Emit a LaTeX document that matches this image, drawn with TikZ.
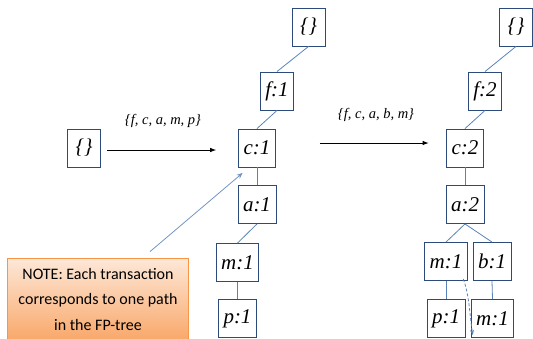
\documentclass[tikz,border=0pt]{standalone}
\usepackage{fontspec}
\newfontfamily\fa{Liberation Serif}
\newfontfamily\fd{Carlito}
\usetikzlibrary{arrows.meta}
\definecolor{boxline}{HTML}{2C4A7A}
\definecolor{edgeline}{HTML}{5A82B8}
\definecolor{noteline}{HTML}{F79646}
\definecolor{notetop}{HTML}{FDE8D8}
\definecolor{notebot}{HTML}{F9A86A}
\begin{document}
\begin{tikzpicture}[x=1pt,y=-1pt]
\tikzset{
  tbox/.style={draw=boxline, line width=0.9pt, fill=white, minimum height=38pt, minimum width=33pt, inner xsep=5pt, font=\fa\itshape\fontsize{21}{23}\selectfont},
  tedge/.style={draw=edgeline, line width=0.8pt},
  flow/.style={draw=black, line width=0.8pt, -{Latex[length=6pt,width=4.5pt]}},
  tlabel/.style={font=\fa\itshape\fontsize{14.5}{16}\selectfont},
  notebox/.style={draw=noteline, line width=0.8pt, top color=notetop, bottom color=notebot, minimum width=181pt, minimum height=82pt, align=center, font=\fd\fontsize{16}{25.5}\selectfont},
  pointer/.style={draw=edgeline!85!white, line width=0.8pt, -{Stealth[length=6pt,width=5pt]}},
  linkarrow/.style={draw=edgeline, line width=0.8pt, dashed, dash pattern=on 3pt off 2pt, -{Stealth[length=5pt,width=4pt]}}}
\useasboundingbox (0,0) rectangle (533,338);

% first empty tree
\node[tbox] (r0) at (84,148) {\{\}};

% tree 1
\node[tbox] (t1r) at (308.5,27) {\{\}};
\node[tbox] (t1f) at (277,91) {f:1};
\node[tbox] (t1c) at (257,148) {c:1};
\node[tbox] (t1a) at (257,204.5) {a:1};
\node[tbox] (t1m) at (237.5,262.5) {m:1};
\node[tbox] (t1p) at (237.5,318.5) {p:1};

\draw[tedge] (t1r.south) -- (t1f.north);
\draw[tedge] (t1f.south) -- (t1c.north);
\draw[tedge] (t1c.south) -- (t1a.north);
\draw[tedge] (t1a.south) -- (t1m.north);
\draw[tedge] (t1m.south) -- (t1p.north);

% tree 2
\node[tbox] (t2r) at (516,27) {\{\}};
\node[tbox] (t2f) at (485,91) {f:2};
\node[tbox] (t2c) at (465,148) {c:2};
\node[tbox] (t2a) at (465,204.5) {a:2};
\node[tbox] (t2m) at (446,261.5) {m:1};
\node[tbox] (t2b) at (492,261.5) {b:1};
\node[tbox] (t2p) at (446,318.5) {p:1};
\node[tbox] (t2mm) at (492.5,318.5) {m:1};

\draw[tedge] (t2r.south) -- (t2f.north);
\draw[tedge] (t2f.south) -- (t2c.north);
\draw[tedge] (t2c.south) -- (t2a.north);
\draw[tedge] (t2a.south) -- (t2m.north);
\draw[tedge] (t2a.south) -- (t2b.north);
\draw[tedge] (t2m.south) -- (t2p.north);
\draw[tedge] (t2b.south) -- (t2mm.north);

% transaction arrows
\coordinate (a1s) at ([xshift=6.5pt,yshift=-2pt]r0.east);
\coordinate (a1e) at ([xshift=-22pt,yshift=-2pt]t1c.west);
\draw[flow] (a1s) -- (a1e);
\node[tlabel] (lab1) at (163,121) {\{f, c, a, m, p\}};

\coordinate (a2s) at ([xshift=44pt,yshift=5pt]t1c.east);
\coordinate (a2e) at ([xshift=-17.5pt,yshift=5pt]t2c.west);
\draw[flow] (a2s) -- (a2e);
\node[tlabel] (lab2) at (376,115) {\{f, c, a, b, m\}};

% note
\node[notebox] (note) at (98,299) {NOTE: Each transaction\\corresponds to one path\\in the FP-tree};
\coordinate (ps) at ([xshift=52pt,yshift=6pt]note.north);
\coordinate (pe) at ([xshift=4.5pt,yshift=-5.5pt]t1c.south west);
\draw[pointer] (ps) -- (pe);

% node-link dashed arrow
\coordinate (ls) at ([xshift=-4.5pt,yshift=2pt]t2m.south east);
\coordinate (le) at ([xshift=2pt,yshift=3pt]t2mm.south west);
\draw[linkarrow] (ls) .. controls ([xshift=6pt,yshift=-16pt]ls) and ([xshift=-3pt,yshift=20pt]le) .. (le);
\end{tikzpicture}
\end{document}
